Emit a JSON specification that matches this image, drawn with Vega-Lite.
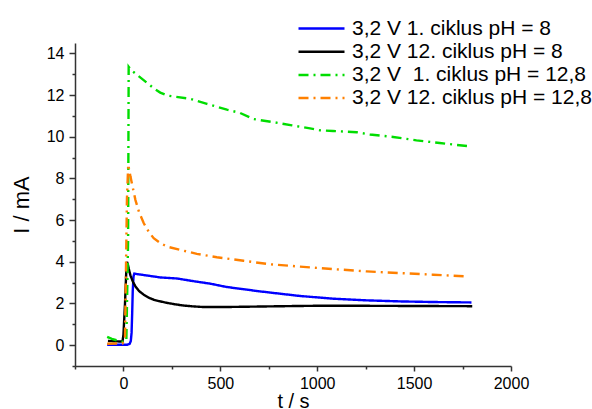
{
  "$schema": "https://vega.github.io/schema/vega-lite/v6.json",
  "width": 436,
  "height": 323,
  "autosize": "none",
  "padding": {"left": 75, "top": 43, "right": 81, "bottom": 43},
  "background": "white",
  "config": {
    "font": "Liberation Sans",
    "view": {"stroke": null},
    "axis": {
      "grid": false,
      "domainColor": "#333333",
      "domainWidth": 1.5,
      "tickColor": "#333333",
      "tickWidth": 1.5,
      "labelColor": "black",
      "labelFontSize": 16,
      "titleColor": "black",
      "titleFontSize": 22,
      "titleFontWeight": "normal",
      "labelOverlap": false,
      "labelFlush": false
    }
  },
  "data": {
    "values": [
      {"s": "3,2 V 1. ciklus pH = 8", "t": -84, "v": 0.02},
      {"s": "3,2 V 1. ciklus pH = 8", "t": 20, "v": 0.02},
      {"s": "3,2 V 1. ciklus pH = 8", "t": 32, "v": 0.06},
      {"s": "3,2 V 1. ciklus pH = 8", "t": 38, "v": 0.2},
      {"s": "3,2 V 1. ciklus pH = 8", "t": 42, "v": 0.6},
      {"s": "3,2 V 1. ciklus pH = 8", "t": 45, "v": 1.5},
      {"s": "3,2 V 1. ciklus pH = 8", "t": 48, "v": 2.6},
      {"s": "3,2 V 1. ciklus pH = 8", "t": 52, "v": 3.3},
      {"s": "3,2 V 1. ciklus pH = 8", "t": 56, "v": 3.43},
      {"s": "3,2 V 1. ciklus pH = 8", "t": 190, "v": 3.25},
      {"s": "3,2 V 1. ciklus pH = 8", "t": 276, "v": 3.2},
      {"s": "3,2 V 1. ciklus pH = 8", "t": 362, "v": 3.07},
      {"s": "3,2 V 1. ciklus pH = 8", "t": 448, "v": 2.95},
      {"s": "3,2 V 1. ciklus pH = 8", "t": 534, "v": 2.79},
      {"s": "3,2 V 1. ciklus pH = 8", "t": 705, "v": 2.58},
      {"s": "3,2 V 1. ciklus pH = 8", "t": 911, "v": 2.36},
      {"s": "3,2 V 1. ciklus pH = 8", "t": 1083, "v": 2.23},
      {"s": "3,2 V 1. ciklus pH = 8", "t": 1255, "v": 2.15},
      {"s": "3,2 V 1. ciklus pH = 8", "t": 1426, "v": 2.1},
      {"s": "3,2 V 1. ciklus pH = 8", "t": 1598, "v": 2.07},
      {"s": "3,2 V 1. ciklus pH = 8", "t": 1796, "v": 2.05},

      {"s": "3,2 V 12. ciklus pH = 8", "t": -80, "v": 0.2},
      {"s": "3,2 V 12. ciklus pH = 8", "t": -5, "v": 0.17},
      {"s": "3,2 V 12. ciklus pH = 8", "t": 0, "v": 0.5},
      {"s": "3,2 V 12. ciklus pH = 8", "t": 8, "v": 2.0},
      {"s": "3,2 V 12. ciklus pH = 8", "t": 14, "v": 3.4},
      {"s": "3,2 V 12. ciklus pH = 8", "t": 18, "v": 4.0},
      {"s": "3,2 V 12. ciklus pH = 8", "t": 22, "v": 3.9},
      {"s": "3,2 V 12. ciklus pH = 8", "t": 28, "v": 3.65},
      {"s": "3,2 V 12. ciklus pH = 8", "t": 36, "v": 3.35},
      {"s": "3,2 V 12. ciklus pH = 8", "t": 50, "v": 3.02},
      {"s": "3,2 V 12. ciklus pH = 8", "t": 62, "v": 2.82},
      {"s": "3,2 V 12. ciklus pH = 8", "t": 80, "v": 2.6},
      {"s": "3,2 V 12. ciklus pH = 8", "t": 105, "v": 2.42},
      {"s": "3,2 V 12. ciklus pH = 8", "t": 130, "v": 2.28},
      {"s": "3,2 V 12. ciklus pH = 8", "t": 156, "v": 2.18},
      {"s": "3,2 V 12. ciklus pH = 8", "t": 190, "v": 2.1},
      {"s": "3,2 V 12. ciklus pH = 8", "t": 225, "v": 2.03},
      {"s": "3,2 V 12. ciklus pH = 8", "t": 260, "v": 1.97},
      {"s": "3,2 V 12. ciklus pH = 8", "t": 311, "v": 1.9},
      {"s": "3,2 V 12. ciklus pH = 8", "t": 360, "v": 1.86},
      {"s": "3,2 V 12. ciklus pH = 8", "t": 414, "v": 1.83},
      {"s": "3,2 V 12. ciklus pH = 8", "t": 517, "v": 1.83},
      {"s": "3,2 V 12. ciklus pH = 8", "t": 600, "v": 1.84},
      {"s": "3,2 V 12. ciklus pH = 8", "t": 750, "v": 1.86},
      {"s": "3,2 V 12. ciklus pH = 8", "t": 900, "v": 1.88},
      {"s": "3,2 V 12. ciklus pH = 8", "t": 1000, "v": 1.89},
      {"s": "3,2 V 12. ciklus pH = 8", "t": 1200, "v": 1.89},
      {"s": "3,2 V 12. ciklus pH = 8", "t": 1500, "v": 1.88},
      {"s": "3,2 V 12. ciklus pH = 8", "t": 1800, "v": 1.87},

      {"s": "3,2 V\u00a0 1. ciklus pH = 12,8", "t": -84, "v": 0.4},
      {"s": "3,2 V\u00a0 1. ciklus pH = 12,8", "t": -60, "v": 0.3},
      {"s": "3,2 V\u00a0 1. ciklus pH = 12,8", "t": -30, "v": 0.22},
      {"s": "3,2 V\u00a0 1. ciklus pH = 12,8", "t": -5, "v": 0.17},
      {"s": "3,2 V\u00a0 1. ciklus pH = 12,8", "t": 15, "v": 0.2},
      {"s": "3,2 V\u00a0 1. ciklus pH = 12,8", "t": 24, "v": 5.0},
      {"s": "3,2 V\u00a0 1. ciklus pH = 12,8", "t": 27, "v": 13.36},
      {"s": "3,2 V\u00a0 1. ciklus pH = 12,8", "t": 40, "v": 13.2},
      {"s": "3,2 V\u00a0 1. ciklus pH = 12,8", "t": 80, "v": 12.9},
      {"s": "3,2 V\u00a0 1. ciklus pH = 12,8", "t": 120, "v": 12.6},
      {"s": "3,2 V\u00a0 1. ciklus pH = 12,8", "t": 160, "v": 12.3},
      {"s": "3,2 V\u00a0 1. ciklus pH = 12,8", "t": 190, "v": 12.12},
      {"s": "3,2 V\u00a0 1. ciklus pH = 12,8", "t": 225, "v": 11.98},
      {"s": "3,2 V\u00a0 1. ciklus pH = 12,8", "t": 345, "v": 11.82},
      {"s": "3,2 V\u00a0 1. ciklus pH = 12,8", "t": 431, "v": 11.58},
      {"s": "3,2 V\u00a0 1. ciklus pH = 12,8", "t": 534, "v": 11.3},
      {"s": "3,2 V\u00a0 1. ciklus pH = 12,8", "t": 600, "v": 11.15},
      {"s": "3,2 V\u00a0 1. ciklus pH = 12,8", "t": 671, "v": 10.85},
      {"s": "3,2 V\u00a0 1. ciklus pH = 12,8", "t": 774, "v": 10.7},
      {"s": "3,2 V\u00a0 1. ciklus pH = 12,8", "t": 870, "v": 10.55},
      {"s": "3,2 V\u00a0 1. ciklus pH = 12,8", "t": 963, "v": 10.4},
      {"s": "3,2 V\u00a0 1. ciklus pH = 12,8", "t": 1014, "v": 10.31},
      {"s": "3,2 V\u00a0 1. ciklus pH = 12,8", "t": 1081, "v": 10.28},
      {"s": "3,2 V\u00a0 1. ciklus pH = 12,8", "t": 1203, "v": 10.22},
      {"s": "3,2 V\u00a0 1. ciklus pH = 12,8", "t": 1272, "v": 10.11},
      {"s": "3,2 V\u00a0 1. ciklus pH = 12,8", "t": 1392, "v": 9.99},
      {"s": "3,2 V\u00a0 1. ciklus pH = 12,8", "t": 1512, "v": 9.83},
      {"s": "3,2 V\u00a0 1. ciklus pH = 12,8", "t": 1632, "v": 9.7},
      {"s": "3,2 V\u00a0 1. ciklus pH = 12,8", "t": 1787, "v": 9.54},

      {"s": "3,2 V 12. ciklus pH = 12,8", "t": -84, "v": 0.07},
      {"s": "3,2 V 12. ciklus pH = 12,8", "t": -5, "v": 0.08},
      {"s": "3,2 V 12. ciklus pH = 12,8", "t": 8, "v": 0.3},
      {"s": "3,2 V 12. ciklus pH = 12,8", "t": 12, "v": 3.0},
      {"s": "3,2 V 12. ciklus pH = 12,8", "t": 18, "v": 7.0},
      {"s": "3,2 V 12. ciklus pH = 12,8", "t": 24, "v": 8.5},
      {"s": "3,2 V 12. ciklus pH = 12,8", "t": 28, "v": 8.5},
      {"s": "3,2 V 12. ciklus pH = 12,8", "t": 36, "v": 8.1},
      {"s": "3,2 V 12. ciklus pH = 12,8", "t": 45, "v": 7.7},
      {"s": "3,2 V 12. ciklus pH = 12,8", "t": 62, "v": 6.96},
      {"s": "3,2 V 12. ciklus pH = 12,8", "t": 80, "v": 6.4},
      {"s": "3,2 V 12. ciklus pH = 12,8", "t": 105, "v": 5.85},
      {"s": "3,2 V 12. ciklus pH = 12,8", "t": 130, "v": 5.45},
      {"s": "3,2 V 12. ciklus pH = 12,8", "t": 156, "v": 5.13},
      {"s": "3,2 V 12. ciklus pH = 12,8", "t": 190, "v": 4.9},
      {"s": "3,2 V 12. ciklus pH = 12,8", "t": 225, "v": 4.73},
      {"s": "3,2 V 12. ciklus pH = 12,8", "t": 294, "v": 4.57},
      {"s": "3,2 V 12. ciklus pH = 12,8", "t": 379, "v": 4.38},
      {"s": "3,2 V 12. ciklus pH = 12,8", "t": 482, "v": 4.22},
      {"s": "3,2 V 12. ciklus pH = 12,8", "t": 620, "v": 4.05},
      {"s": "3,2 V 12. ciklus pH = 12,8", "t": 757, "v": 3.88},
      {"s": "3,2 V 12. ciklus pH = 12,8", "t": 911, "v": 3.77},
      {"s": "3,2 V 12. ciklus pH = 12,8", "t": 1083, "v": 3.65},
      {"s": "3,2 V 12. ciklus pH = 12,8", "t": 1255, "v": 3.54},
      {"s": "3,2 V 12. ciklus pH = 12,8", "t": 1426, "v": 3.46},
      {"s": "3,2 V 12. ciklus pH = 12,8", "t": 1598, "v": 3.38},
      {"s": "3,2 V 12. ciklus pH = 12,8", "t": 1770, "v": 3.3}
    ]
  },
  "mark": {"type": "line", "interpolate": "linear", "strokeWidth": 2.4},
  "encoding": {
    "x": {
      "field": "t",
      "type": "quantitative",
      "scale": {"domain": [-250, 2000], "nice": false, "zero": false},
      "axis": {
        "title": "t / s",
        "titleFontSize": 20,
        "values": [-250, 0, 250, 500, 750, 1000, 1250, 1500, 1750, 2000],
        "labelExpr": "datum.value % 500 === 0 ? datum.label : ''",
        "format": "d",
        "tickSize": {"condition": {"test": "datum.value % 500 !== 0", "value": 3}, "value": 5},
        "labelPadding": 4,
        "titlePadding": 0
      }
    },
    "y": {
      "field": "v",
      "type": "quantitative",
      "scale": {"domain": [-1, 14.5], "nice": false, "zero": false},
      "axis": {
        "title": "I / mA",
        "values": [-1, 0, 1, 2, 3, 4, 5, 6, 7, 8, 9, 10, 11, 12, 13, 14],
        "labelExpr": "datum.value % 2 === 0 ? datum.label : ''",
        "tickSize": {"condition": {"test": "datum.value % 2 !== 0", "value": 3}, "value": 6},
        "labelPadding": 5,
        "titlePadding": 13
      }
    },
    "color": {
      "field": "s",
      "type": "nominal",
      "scale": {
        "domain": ["3,2 V 1. ciklus pH = 8", "3,2 V 12. ciklus pH = 8", "3,2 V\u00a0 1. ciklus pH = 12,8", "3,2 V 12. ciklus pH = 12,8"],
        "range": ["#0000ff", "#000000", "#00dd00", "#ff8000"]
      },
      "legend": {
        "orient": "none",
        "legendX": 235,
        "legendY": -26,
        "title": null,
        "padding": 0,
        "symbolType": "M-2.3,0L2.3,0",
        "symbolSize": 400,
        "symbolStrokeWidth": 2.5,
        "labelFontSize": 21,
        "labelColor": "black",
        "labelOffset": 19,
        "labelLimit": 400,
        "rowPadding": 1.2
      }
    },
    "strokeDash": {
      "field": "s",
      "type": "nominal",
      "scale": {
        "domain": ["3,2 V 1. ciklus pH = 8", "3,2 V 12. ciklus pH = 8", "3,2 V\u00a0 1. ciklus pH = 12,8", "3,2 V 12. ciklus pH = 12,8"],
        "range": [[1, 0], [1, 0], [10, 5, 2, 5], [10, 5, 2, 5]]
      },
      "legend": {
        "orient": "none",
        "legendX": 235,
        "legendY": -26,
        "title": null,
        "padding": 0,
        "symbolType": "M-2.3,0L2.3,0",
        "symbolSize": 400,
        "symbolStrokeWidth": 2.5,
        "labelFontSize": 21,
        "labelColor": "black",
        "labelOffset": 19,
        "labelLimit": 400,
        "rowPadding": 1.2
      }
    }
  }
}
